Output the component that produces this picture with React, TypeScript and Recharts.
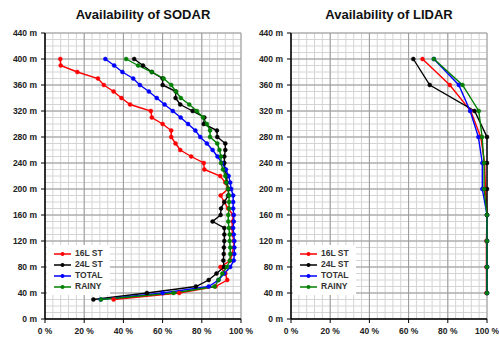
import { CartesianGrid, Line, LineChart, XAxis, YAxis } from "recharts"

// SODAR heights (m), bottom to top
const sodarHeights = [
  30, 40, 50, 60, 70, 80, 90, 100, 110, 120, 130, 140, 150, 160, 170, 180, 190, 200, 210,
  220, 230, 240, 250, 260, 270, 280, 290, 300, 310, 320, 330, 340, 350, 360, 370, 380, 390, 400,
]
const sodar16L = [
  35, 68.5, 87, 93, 92, 89.5, 94.5, 95.4, 96.3, 96.3, 95.7, 95.4, 95.7, 96, 93.4, 91.5, 89.6, 93.4, 92,
  89.4, 81.3, 81, 74.6, 69, 66.6, 64.4, 64.4, 60, 54.5, 54, 43.4, 39, 35, 30, 27, 16.5, 8, 7.8,
]
const sodar24L = [
  24.7, 52, 77, 83.5, 87.5, 91.3, 91, 91.2, 91.3, 91.5, 91.5, 91.5, 85.5, 89.6, 89.8, 91.5, 93.5, 93.7, 92.8,
  92.8, 91.8, 91.5, 91.5, 92, 92, 87.9, 87.7, 81, 81.3, 75.3, 69, 66.6, 66.8, 60, 60, 54.5, 50, 45.5,
]
const sodarTotal = [
  28.4, 60, 83.5, 88.5, 91.5, 94.5, 96.3, 96.6, 96.6, 96.6, 96.3, 96, 96.3, 96.3, 96, 96, 96, 95, 94.5,
  93.7, 92.3, 90.3, 88, 85.5, 82.6, 79.2, 76.7, 73, 69.2, 65.2, 61, 57, 53, 48.4, 45, 39.5, 35.3, 30.8,
]
const sodarRainy = [
  28.6, 65.6, 86.5, 88.5, 90.5, 92.8, 94.3, 94.5, 94.5, 94.2, 94.2, 93.8, 93.5, 93.5, 93.9, 93.9, 93.9, 93.4, 92.5,
  92, 90.8, 89.8, 89.8, 89, 87.9, 84.2, 84.2, 82.6, 80.6, 77.5, 73.6, 69.3, 66.8, 64.4, 60.5, 54.5, 47.5, 41.4,
]

// LIDAR heights (m)
const lidarHeights = [40, 80, 120, 160, 200, 240, 280, 320, 360, 400]
const lidar16L = [99.7, 99.7, 99.7, 100, 99.2, 98.8, 96.8, 91.7, 81, 67.1]
const lidar24L = [100, 100, 100, 100, 100, 100, 100, 93.7, 70.8, 62.4]
const lidarTotal = [100, 100, 100, 100, 97.6, 97.6, 95.6, 91.4, 85.6, 72.9]
const lidarRainy = [100, 100, 100, 100, 98.5, 98.5, 97.5, 95.8, 87.5, 72.9]

const xTicks = [0, 20, 40, 60, 80, 100]
const yTicks = [0, 40, 80, 120, 160, 200, 240, 280, 320, 360, 400, 440]
const xMinor = Array.from({ length: 26 }, (_, i) => i * 4)
const yMinor = Array.from({ length: 45 }, (_, i) => i * 10)

const series = [
  { key: "s16", name: "16L ST", color: "#ff0000" },
  { key: "s24", name: "24L ST", color: "#000000" },
  { key: "total", name: "TOTAL", color: "#0000ff" },
  { key: "rainy", name: "RAINY", color: "#008000" },
]

const sodarData = sodarHeights.map((h, i) => ({
  h,
  s16: sodar16L[i],
  s24: sodar24L[i],
  total: sodarTotal[i],
  rainy: sodarRainy[i],
}))

const lidarData = lidarHeights.map((h, i) => ({
  h,
  s16: lidar16L[i],
  s24: lidar24L[i],
  total: lidarTotal[i],
  rainy: lidarRainy[i],
}))

const font = "'Liberation Sans', Arial, sans-serif"
const tickStyle = { fontSize: 8.5, fontWeight: 700, fill: "#222", fontFamily: font }

function LegendBox({ left, top }: { left: number; top: number }) {
  return (
    <div
      style={{
        position: "absolute",
        left,
        top,
        background: "#fff",
        padding: "3px 6px 3px 7px",
        width: 50,
      }}
    >
      {series.map((e) => (
        <div key={e.key} style={{ display: "flex", alignItems: "center", height: 11 }}>
          <svg width={17} height={6} style={{ display: "block", flex: "none" }}>
            <line x1={0} y1={3} x2={17} y2={3} stroke={e.color} strokeWidth={1.5} />
            <circle cx={8.5} cy={3} r={2} fill={e.color} />
          </svg>
          <span
            style={{
              marginLeft: 4,
              fontSize: 8.5,
              fontWeight: 700,
              color: "#333",
              fontFamily: font,
              lineHeight: "9px",
              whiteSpace: "nowrap",
            }}
          >
            {e.name}
          </span>
        </div>
      ))}
    </div>
  )
}

function Panel({
  title,
  data,
  left,
  width,
  yAxisWidth,
  marginRight,
}: {
  title: string
  data: any[]
  left: number
  width: number
  yAxisWidth: number
  marginRight: number
}) {
  const plotW = width - yAxisWidth - marginRight
  return (
    <div style={{ position: "absolute", left, top: 0, width, height: 343 }}>
      <div
        style={{
          position: "absolute",
          left: yAxisWidth,
          top: 8,
          width: plotW,
          textAlign: "center",
          fontFamily: font,
          fontWeight: 700,
          fontSize: 13,
          lineHeight: "14px",
          color: "#111",
        }}
      >
        {title}
      </div>
      <LineChart
        layout="vertical"
        width={width}
        height={343}
        data={data}
        margin={{ top: 33, right: marginRight, bottom: 4, left: 0 }}
        style={{ overflow: "visible" }}
      >
        <CartesianGrid
          stroke="#d4d4d4"
          strokeWidth={1}
          horizontalValues={yMinor}
          verticalValues={xMinor}
        />
        <CartesianGrid
          stroke="#9a9a9a"
          strokeWidth={1}
          horizontalValues={yTicks}
          verticalValues={xTicks}
        />
        <XAxis
          type="number"
          domain={[0, 100]}
          ticks={xTicks}
          interval={0}
          height={20}
          tickFormatter={(v) => `${v} %`}
          tick={tickStyle}
          axisLine={{ stroke: "#000", strokeWidth: 1.5 }}
          tickLine={{ stroke: "#000" }}
          tickSize={4}
          tickMargin={5}
        />
        <YAxis
          type="number"
          dataKey="h"
          domain={[0, 440]}
          reversed
          ticks={yTicks}
          interval={0}
          width={yAxisWidth}
          tickFormatter={(v) => `${v} m`}
          tick={tickStyle}
          axisLine={{ stroke: "#000", strokeWidth: 1.5 }}
          tickLine={{ stroke: "#000" }}
          tickSize={4}
          tickMargin={4}
        />
        {series.map((s) => (
          <Line
            key={s.key}
            dataKey={s.key}
            name={s.name}
            stroke={s.color}
            strokeWidth={1.4}
            dot={{ r: 2, fill: s.color, stroke: s.color, strokeWidth: 0.5 }}
            isAnimationActive={false}
          />
        ))}
      </LineChart>
      <LegendBox left={yAxisWidth + 2} top={245} />
    </div>
  )
}

export default function App() {
  return (
    <div
      style={{
        position: "absolute",
        left: 0,
        top: 0,
        width: 499,
        height: 343,
        background: "#fff",
        overflow: "hidden",
      }}
    >
      <Panel title="Availability of SODAR" data={sodarData} left={0} width={260} yAxisWidth={45} marginRight={19} />
      <Panel title="Availability of LIDAR" data={lidarData} left={250} width={249} yAxisWidth={41} marginRight={12} />
    </div>
  )
}
